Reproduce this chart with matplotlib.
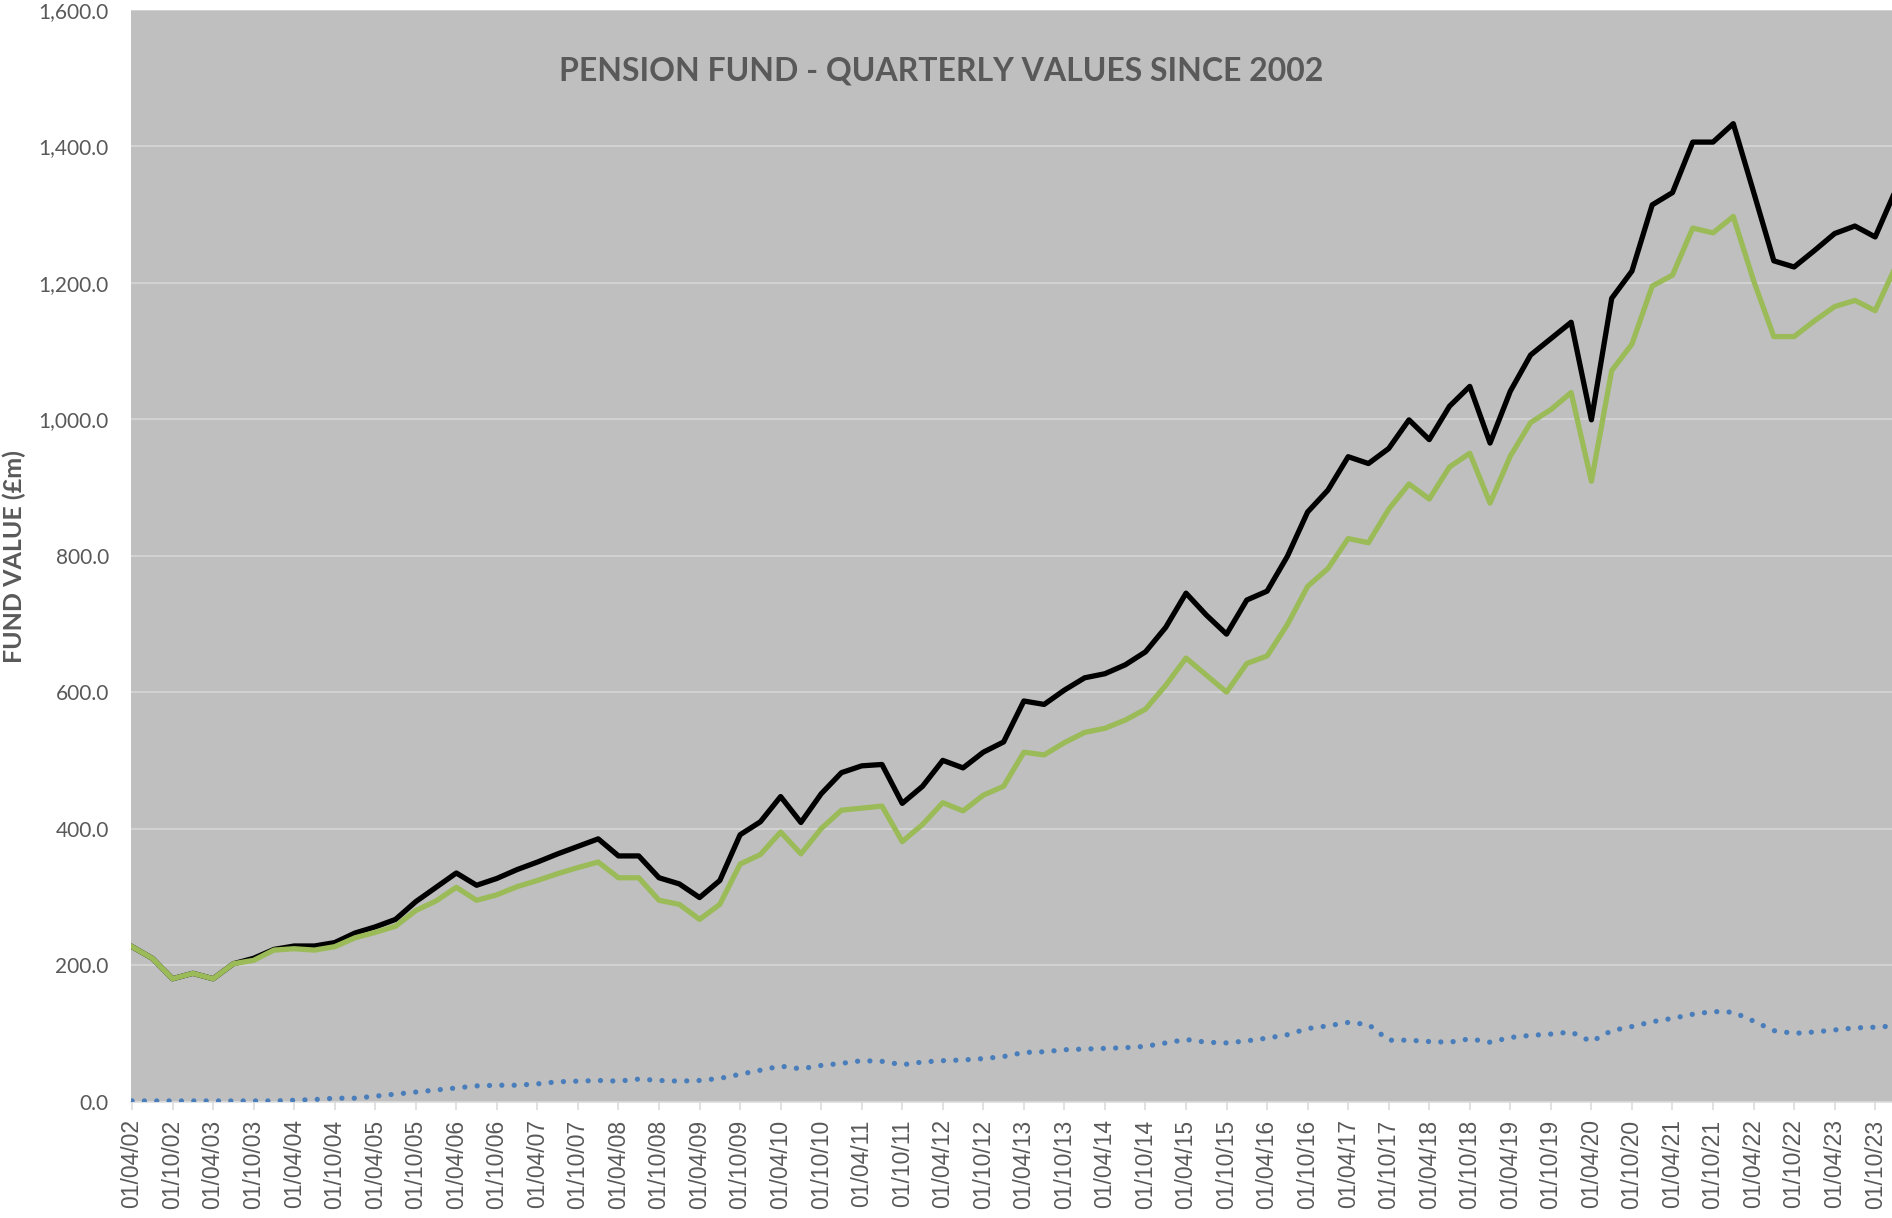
import numpy as np
import pandas as pd
import matplotlib
matplotlib.use("Agg")
import matplotlib.pyplot as plt
from matplotlib.ticker import FuncFormatter

# quarterly valuations, 01/04/02 onwards (£m)
total = [227, 210, 180, 188, 180, 202, 210, 223, 228, 228,
         233, 247, 256, 267, 293, 314, 335, 317, 327, 340,
         351, 363, 374, 385, 360, 360, 328, 319, 299, 324,
         391, 410, 447, 409, 451, 482, 492, 494, 437, 462,
         500, 489, 512, 527, 587, 582, 603, 621, 627, 640,
         659, 695, 745, 713, 685, 735, 748, 799, 864, 896,
         945, 935, 957, 999, 970, 1019, 1048, 965, 1041, 1094,
         1118, 1142, 999, 1177, 1217, 1314, 1332, 1406, 1406, 1433,
         1333, 1232, 1223, 1247, 1272, 1283, 1267, 1335]

green = [227, 210, 180, 188, 180, 202, 207, 222, 224, 222,
         227, 240, 248, 257, 280, 294, 314, 295, 303, 315,
         324, 334, 343, 351, 328, 328, 295, 289, 267, 289,
         348, 362, 395, 363, 400, 427, 430, 433, 381, 406,
         438, 426, 449, 462, 512, 508, 526, 541, 547, 559,
         575, 610, 650, 625, 600, 642, 653, 699, 755, 781,
         825, 819, 868, 905, 883, 930, 950, 877, 946, 995,
         1014, 1039, 909, 1071, 1110, 1195, 1211, 1280, 1273, 1297,
         1203, 1121, 1121, 1144, 1165, 1174, 1159, 1223]

blue = [1, 1, 1, 1, 1, 1, 1, 1, 2, 3,
        5, 5, 8, 11, 14, 17, 20, 23, 24, 24,
        26, 29, 30, 31, 30, 33, 31, 30, 31, 34,
        40, 46, 52, 48, 53, 56, 60, 59, 54, 58,
        60, 61, 63, 66, 72, 73, 76, 77, 78, 79,
        81, 86, 91, 87, 86, 89, 93, 98, 107, 111,
        116, 113, 90, 90, 88, 87, 92, 87, 94, 97,
        99, 102, 88, 104, 110, 117, 122, 128, 132, 131,
        118, 104, 100, 102, 105, 108, 109, 111]

dates = pd.date_range("2002-04-01", periods=len(total), freq="QS-JAN")
tick_labels = [d.strftime("%d/%m/%y") for d in dates][::2][:44]

title = "PENSION FUND - QUARTERLY VALUES SINCE 2002"
ylabel = "FUND VALUE (£m)"

W, H = 1892, 1218
fig = plt.figure(figsize=(W / 100, H / 100), dpi=100)
ax = fig.add_axes([131 / W, 1 - 1101.6 / H, 1 - 131 / W, (1101.6 - 9.7) / H])
ax.set_facecolor("#BFBFBF")

q = np.arange(len(total))
ax.plot(q, blue, color="#4A7EBB", lw=3.8, linestyle=(0, (0.01, 2.33)),
        dash_capstyle="round", zorder=3)
ax.plot(q, total, color="black", lw=3.8, zorder=4)
ax.plot(q, green, color="#9BBB59", lw=3.8, zorder=5)

ax.set_xlim(-0.05, 86.83)
ax.set_ylim(0, 1600)
ax.set_yticks(np.arange(0, 1601, 200))
ax.yaxis.set_major_formatter(FuncFormatter(lambda v, p: f"{v:,.1f}"))
ax.grid(axis="y", color="#D9D9D9", lw=1.1, zorder=1)
ax.set_axisbelow(True)

for s in ["top", "right", "left"]:
    ax.spines[s].set_visible(False)
ax.spines["bottom"].set_color("#D9D9D9")
ax.spines["bottom"].set_linewidth(1.1)

ax.set_xticks(q[::2][:44])
ax.set_xticklabels(tick_labels, rotation=90, fontfamily="Liberation Sans",
                   fontsize=16.5, color="#595959")
ax.tick_params(axis="x", length=5.8, width=1.1, color="#D9D9D9", pad=7)
ax.tick_params(axis="y", length=0, pad=16, labelsize=15, labelcolor="#595959")
for lab in ax.get_yticklabels():
    lab.set_fontfamily("Lato")

ax.text(941 / W, 1 - 71 / H, title, transform=fig.transFigure, ha="center",
        va="center", fontsize=23, fontweight="bold", family="Lato",
        color="#595959")
fig.text(14.5 / W, 1 - 557 / H, ylabel, rotation=90, ha="center", va="center",
         fontsize=18, fontweight="bold", family="Lato", color="#595959")

fig.savefig("out.png", dpi=100)
